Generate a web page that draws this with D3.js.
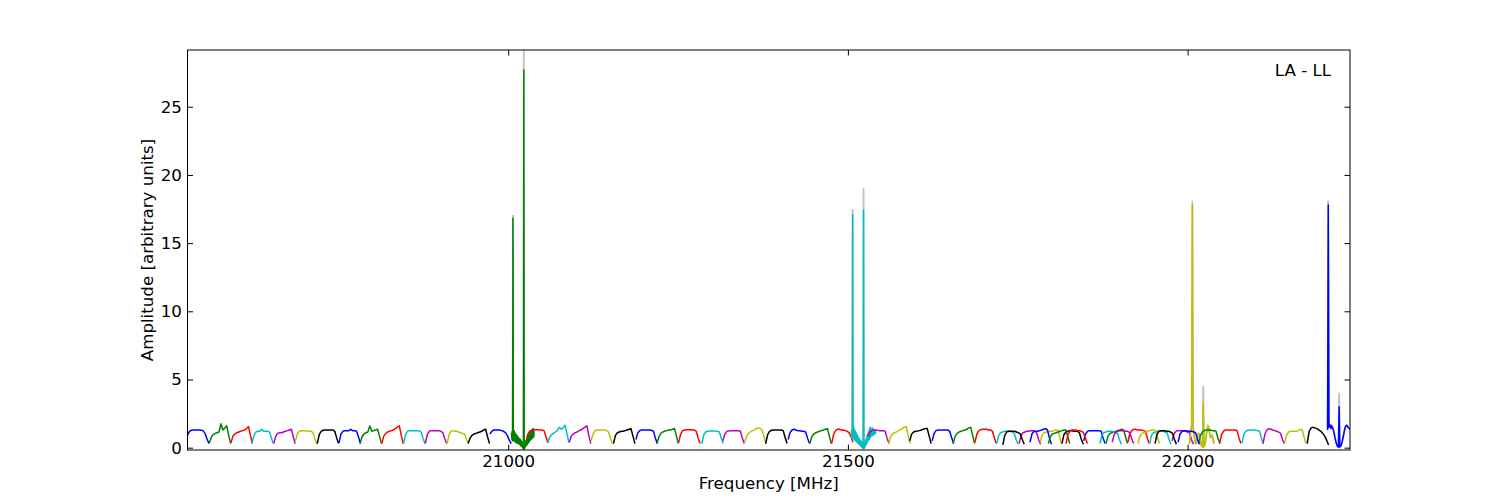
<!doctype html>
<html lang="en">

<head>
  <title>LA - LL amplitude spectrum</title>
  <meta charset="utf-8" />
  <script src="https://cdn.jsdelivr.net/npm/d3@7"></script>
  <style>
    body { margin: 0; background: #fff; }
    text { font-family: "DejaVu Sans", sans-serif; }
  </style>
  <script>
    // start frequency of every spectral window [MHz], in spw order
    const spwStart = [
      20528, 20560, 20592, 20623, 20655, 20687, 20719, 20751, 20782, 20814,
      20846, 20878, 20910, 20941, 20973, 21005, 21027, 21058, 21090, 21122,
      21155, 21188, 21219, 21251, 21285, 21316, 21348, 21379, 21412, 21444,
      21476, 21505, 21529, 21560, 21591, 21624, 21655, 21687, 21719, 21752,
      21783, 21815, 21847, 21880, 21912, 21944, 21977, 22003, 21728, 21768,
      22016, 22047, 22080, 22111, 22143, 22176, 22206, 21795, 21821, 21871,
      21889, 21927, 21952, 21986
    ];
    // the windows with narrow channels (spectral lines) and their channel width [MHz]
    const lineSpws = [15, 31, 47, 56];
    const lineChanWidth = [0.5, 0.5, 1, 1];
    const contChanWidth = 2.8636;

    // amplitude per channel of every window
    const spwAmp = [
      [0.9, 1.2, 1.28, 1.3, 1.3, 1.3, 1.3, 1.28, 1.25, 1.05, 0.65, 0.3],
      [0.3, 0.75, 0.95, 1.05, 1.1, 1.15, 1.75, 1.3, 1.45, 1.6, 0.9, 0.3],
      [0.35, 0.85, 1.0, 1.1, 1.15, 1.2, 1.25, 1.3, 1.4, 1.55, 0.9, 0.3],
      [0.35, 0.9, 1.15, 1.2, 1.2, 1.35, 1.2, 1.2, 1.2, 1.15, 0.7, 0.3],
      [0.3, 0.85, 1.05, 1.1, 1.1, 1.15, 1.2, 1.25, 1.3, 1.35, 0.8, 0.3],
      [0.5, 1.05, 1.2, 1.25, 1.25, 1.25, 1.22, 1.2, 1.2, 1.1, 0.6, 0.3],
      [0.3, 0.95, 1.2, 1.28, 1.3, 1.3, 1.3, 1.3, 1.3, 1.2, 0.7, 0.3],
      [0.35, 1.0, 1.2, 1.25, 1.25, 1.25, 1.35, 1.25, 1.25, 1.2, 0.8, 0.3],
      [0.3, 0.8, 1.0, 1.1, 1.15, 1.6, 1.2, 1.25, 1.3, 1.35, 0.85, 0.3],
      [0.3, 0.85, 1.05, 1.15, 1.2, 1.25, 1.3, 1.4, 1.5, 1.6, 0.9, 0.3],
      [0.3, 0.95, 1.2, 1.25, 1.25, 1.25, 1.25, 1.25, 1.25, 1.15, 0.7, 0.3],
      [0.3, 0.95, 1.2, 1.25, 1.25, 1.25, 1.25, 1.25, 1.2, 1.1, 0.65, 0.3],
      [0.3, 0.95, 1.2, 1.25, 1.2, 1.2, 1.15, 1.1, 1.05, 1.0, 0.6, 0.3],
      [0.3, 0.7, 0.9, 1.0, 1.05, 1.1, 1.15, 1.2, 1.3, 1.35, 0.8, 0.3],
      [1.0, 1.2, 1.3, 1.3, 1.3, 1.3, 1.25, 1.2, 1.1, 0.9, 0.55, 0.3],
      // spw 15: line window
      [1.1, 0.6, 1.2, 0.5, 16.82, 0.7, 1.3, 0.5, 1.2, 0.6, 1.1, 0.4, 1.0, 0.5, 0.95, 0.35,
       0.9, 0.4, 0.8, 0.3, 0.75, 0.3, 0.7, 0.25, 0.65, 0.2, 0.6, 0.15, 0.5, 0.1, 0.45, 0.05,
       0.4, 0.0, 0.3, -0.1, 27.7, -0.17, 0.3, 0.0, 0.4, 0.1, 0.5, 0.15, 0.6, 0.2, 0.7, 0.3,
       0.8, 0.35, 0.9, 0.4, 1.0, 0.5, 1.1, 0.55, 1.15, 0.6, 1.25, 0.65, 1.3, 0.7, 1.35, 0.75,
       1.4, 0.8, 1.2],
      [0.7, 1.1, 1.25, 1.3, 1.32, 1.32, 1.32, 1.3, 1.3, 1.25, 0.8, 0.35],
      [0.35, 0.75, 0.95, 1.05, 1.15, 1.25, 1.5, 1.35, 1.45, 1.65, 1.0, 0.35],
      [0.4, 0.85, 1.0, 1.1, 1.15, 1.25, 1.3, 1.4, 1.5, 1.6, 0.9, 0.3],
      [0.5, 1.0, 1.25, 1.3, 1.3, 1.3, 1.3, 1.3, 1.25, 1.15, 0.65, 0.3],
      [0.3, 0.9, 1.1, 1.15, 1.2, 1.2, 1.25, 1.3, 1.35, 1.4, 0.85, 0.3],
      [0.6, 1.1, 1.25, 1.3, 1.3, 1.3, 1.3, 1.3, 1.28, 1.2, 0.7, 0.3],
      [0.3, 0.8, 1.05, 1.15, 1.2, 1.25, 1.3, 1.3, 1.35, 1.4, 0.85, 0.3],
      [0.4, 1.0, 1.25, 1.3, 1.32, 1.32, 1.32, 1.3, 1.3, 1.2, 0.7, 0.3],
      [0.3, 0.95, 1.15, 1.2, 1.22, 1.22, 1.22, 1.22, 1.2, 1.15, 0.7, 0.3],
      [0.5, 1.0, 1.2, 1.22, 1.25, 1.25, 1.25, 1.25, 1.25, 1.2, 0.7, 0.3],
      [0.4, 0.85, 1.05, 1.15, 1.25, 1.3, 1.4, 1.42, 1.42, 1.3, 0.8, 0.3],
      [0.3, 0.95, 1.2, 1.28, 1.3, 1.3, 1.3, 1.3, 1.3, 1.25, 0.75, 0.3],
      [0.6, 1.1, 1.3, 1.35, 1.3, 1.25, 1.25, 1.2, 1.2, 1.15, 0.7, 0.3],
      [0.3, 0.8, 1.0, 1.1, 1.15, 1.2, 1.25, 1.3, 1.35, 1.4, 0.85, 0.3],
      [0.3, 0.95, 1.25, 1.35, 1.35, 1.3, 1.3, 1.25, 1.2, 1.1, 0.8, 0.4],
      // spw 31: line window
      [0.8, 1.3, 0.7, 1.5, 17.1, 0.8, 1.6, 0.7, 1.4, 0.6, 1.3, 0.55, 1.2, 0.5, 1.1, 0.45,
       1.0, 0.4, 0.9, 0.35, 0.8, 0.3, 0.7, 0.25, 0.6, 0.2, 0.55, 0.15, 0.5, 0.1, 0.4, 0.05,
       0.35, 0.0, 0.3, -0.05, 17.43, -0.1, 0.3, 0.0, 0.4, 0.1, 0.5, 0.2, 0.65, 0.3, 0.8, 0.4,
       0.95, 0.5, 1.1, 0.55, 1.25, 0.6, 1.4, 0.7, 1.5, 0.8, 1.3, 0.85, 1.35, 0.9, 1.45, 0.9,
       1.3, 0.95, 1.35, 1.0, 1.3, 1.0, 1.25, 1.05, 1.2],
      [0.8, 1.1, 1.25, 1.3, 1.3, 1.28, 1.25, 1.25, 1.25, 1.2, 0.7, 0.3],
      [0.3, 0.8, 1.0, 1.1, 1.15, 1.25, 1.3, 1.4, 1.5, 1.55, 0.9, 0.3],
      [0.5, 1.0, 1.15, 1.2, 1.22, 1.25, 1.3, 1.35, 1.4, 1.4, 0.85, 0.3],
      [0.5, 1.05, 1.25, 1.3, 1.3, 1.3, 1.3, 1.3, 1.3, 1.2, 0.75, 0.3],
      [0.3, 0.85, 1.05, 1.15, 1.2, 1.25, 1.3, 1.35, 1.45, 1.5, 0.9, 0.3],
      [0.4, 1.0, 1.25, 1.32, 1.35, 1.35, 1.35, 1.3, 1.3, 1.2, 0.7, 0.3],
      [0.3, 0.9, 1.1, 1.15, 1.2, 1.2, 1.2, 1.2, 1.15, 1.05, 0.6, 0.25],
      [0.3, 0.9, 1.1, 1.15, 1.2, 1.2, 1.25, 1.25, 1.2, 1.1, 0.6, 0.25],
      [0.4, 0.95, 1.1, 1.15, 1.15, 1.2, 1.2, 1.25, 1.3, 1.3, 0.8, 0.3],
      [0.3, 0.95, 1.15, 1.2, 1.25, 1.25, 1.2, 1.2, 1.2, 1.1, 0.6, 0.25],
      [0.5, 1.0, 1.2, 1.25, 1.25, 1.25, 1.25, 1.25, 1.25, 1.2, 0.7, 0.3],
      [0.3, 0.85, 1.05, 1.1, 1.15, 1.2, 1.25, 1.3, 1.35, 1.3, 0.8, 0.3],
      [0.4, 1.0, 1.25, 1.35, 1.35, 1.3, 1.3, 1.3, 1.25, 1.2, 0.7, 0.3],
      [0.3, 0.9, 1.1, 1.15, 1.2, 1.2, 1.2, 1.2, 1.15, 1.1, 0.6, 0.25],
      [0.5, 1.0, 1.2, 1.25, 1.25, 1.25, 1.2, 1.2, 1.15, 1.1, 0.6, 0.25],
      // spw 47: line window
      [0.3, 1.0, 1.4, 1.6, 17.8, 1.5, 1.2, 0.8, 0.45, 0.3, 0.35, 0.6, 0.9, 1.05, 1.0, 0.8, 0.5, 0.25,
       0.1, 0.05, 3.3, 0.05, 0.15, 0.35, 0.7, 1.1, 1.4, 1.6, 1.5, 1.2, 0.9, 0.75, 0.8, 0.9, 0.7, 0.5, 0.3],
      [0.2, 0.9, 1.15, 1.2, 1.2, 1.2, 1.2, 1.15, 1.1, 1.0, 0.6, 0.25],
      [0.4, 1.0, 1.2, 1.2, 1.2, 1.25, 1.3, 1.35, 1.4, 1.3, 0.7, 0.25],
      [0.3, 0.9, 1.15, 1.25, 1.3, 1.3, 1.3, 1.25, 1.25, 1.2, 0.7, 0.3],
      [0.3, 0.95, 1.2, 1.3, 1.3, 1.3, 1.3, 1.3, 1.3, 1.25, 0.7, 0.3],
      [0.35, 1.0, 1.2, 1.28, 1.3, 1.3, 1.3, 1.28, 1.25, 1.2, 0.7, 0.3],
      [0.3, 1.0, 1.3, 1.4, 1.35, 1.3, 1.25, 1.2, 1.15, 1.05, 0.6, 0.3],
      [0.4, 0.95, 1.15, 1.2, 1.2, 1.2, 1.2, 1.25, 1.35, 1.3, 0.7, 0.3],
      [0.3, 1.2, 1.45, 1.5, 1.45, 1.4, 1.3, 1.2, 1.05, 0.85, 0.55, 0.2],
      // spw 56: line window
      [1.3, 17.8, 1.5, 1.7, 1.6, 1.4, 1.6, 1.5, 1.4, 1.2, 0.95, 0.7, 0.5, 0.3, 0.15, 0.08, 0.05,
       3.0, 0.05, 0.1, 0.2, 0.35, 0.55, 0.8, 1.05, 1.3, 1.5, 1.6, 1.65, 1.6, 1.5, 1.45, 1.4, 1.4],
      [0.3, 0.8, 1.0, 1.05, 1.1, 1.15, 1.2, 1.25, 1.3, 1.3, 0.8, 0.3],
      [0.3, 0.95, 1.2, 1.3, 1.3, 1.3, 1.25, 1.25, 1.2, 1.1, 0.7, 0.3],
      [0.3, 0.9, 1.1, 1.15, 1.2, 1.2, 1.2, 1.15, 1.1, 1.05, 0.6, 0.25],
      [0.4, 0.95, 1.15, 1.2, 1.25, 1.25, 1.25, 1.2, 1.2, 1.1, 0.65, 0.3],
      [0.3, 0.85, 1.05, 1.1, 1.15, 1.2, 1.25, 1.3, 1.3, 1.25, 0.75, 0.3],
      [0.3, 0.95, 1.2, 1.25, 1.25, 1.25, 1.2, 1.2, 1.15, 1.05, 0.6, 0.25],
      [0.4, 1.0, 1.2, 1.25, 1.25, 1.2, 1.2, 1.2, 1.15, 1.1, 0.6, 0.25]
    ];

    // unsmoothed peak heights of the lines (drawn in grey behind)
    const rawPeakFreq = [21007, 21023, 21507, 21523, 22007, 22023, 22207, 22223];
    const rawPeakAmp = [17.06, 29.16, 17.5, 19.06, 18.1, 4.52, 18.1, 4.03];

    const xTicks = [21000, 21500, 22000];
    const yTicks = [0, 5, 10, 15, 20, 25];
    const baselineLabel = "LA - LL";

    window.onload = () => {
      const w = 1500;
      const h = 500;
      const left = 187.5, right = 1350, top = 50, bottom = 450;

      const colors = ["#0000ff", "#008000", "#ff0000", "#00bfbf", "#bf00bf", "#bfbf00", "#000000"];

      const spws = spwStart.map((f0, i) => {
        const k = lineSpws.indexOf(i);
        const cw = k >= 0 ? lineChanWidth[k] : contChanWidth;
        return {
          id: i,
          pts: spwAmp[i].map((a, j) => [f0 + j * cw, a])
        };
      });

      const raw = spws.filter(s => lineSpws.includes(s.id)).map(s => s.pts.map(p => {
        const k = rawPeakFreq.findIndex(f => Math.abs(f - p[0]) < 0.01);
        return k >= 0 ? [p[0], rawPeakAmp[k]] : p;
      }));

      const allPts = spws.flatMap(s => s.pts).concat(raw.flat());
      const x = d3.scaleLinear().domain(d3.extent(allPts, p => p[0])).range([left, right]);
      const y = d3.scaleLinear().domain(d3.extent(allPts, p => p[1])).range([bottom, top]);

      const svg = d3.select("body").append("svg").attr("width", w).attr("height", h);

      svg.append("clipPath").attr("id", "plot-area")
        .append("rect").attr("x", left).attr("y", top)
        .attr("width", right - left).attr("height", bottom - top);

      const line = d3.line().x(p => x(p[0])).y(p => y(p[1]));
      const plot = svg.append("g").attr("clip-path", "url(#plot-area)");

      plot.selectAll("path.raw")
        .data(raw)
        .enter()
        .append("path")
        .attr("class", "raw")
        .attr("d", line)
        .style("fill", "none")
        .style("stroke", "#bfbfbf")
        .style("stroke-width", 1.8);

      plot.selectAll("path.spw")
        .data(spws)
        .enter()
        .append("path")
        .attr("class", "spw")
        .attr("d", s => line(s.pts))
        .style("fill", "none")
        .style("stroke", s => colors[s.id % colors.length])
        .style("stroke-width", 1.5)
        .style("stroke-linejoin", "round");

      // axes, ticks pointing inwards on all four sides
      const tick = 5.5;
      const fontSize = "16.67px";
      const axes = [
        [d3.axisBottom(x).tickValues(xTicks).tickFormat(d3.format("d")), `translate(0,${bottom})`],
        [d3.axisTop(x).tickValues(xTicks).tickFormat(""), `translate(0,${top})`],
        [d3.axisLeft(y).tickValues(yTicks).tickFormat(d3.format("d")), `translate(${left},0)`],
        [d3.axisRight(y).tickValues(yTicks).tickFormat(""), `translate(${right},0)`]
      ];
      axes.forEach(([ax, tr]) => {
        const g = svg.append("g").attr("transform", tr)
          .call(ax.tickSizeInner(-tick).tickSizeOuter(0).tickPadding(5.6));
        g.select(".domain").remove();
        g.selectAll(".tick line").style("stroke", "#000");
        g.selectAll("text").style("font-family", "DejaVu Sans").style("font-size", fontSize).style("fill", "#000");
      });

      svg.append("rect")
        .attr("x", left).attr("y", top)
        .attr("width", right - left).attr("height", bottom - top)
        .style("fill", "none").style("stroke", "#000").style("stroke-width", 1);

      svg.append("text")
        .text("Frequency [MHz]")
        .attr("x", (left + right) / 2).attr("y", 489)
        .attr("text-anchor", "middle")
        .style("font-size", fontSize);

      svg.append("text")
        .text("Amplitude [arbitrary units]")
        .attr("transform", `translate(153,${(top + bottom) / 2}) rotate(-90)`)
        .attr("text-anchor", "middle")
        .style("font-size", fontSize);

      svg.append("text")
        .text(baselineLabel)
        .attr("x", 1331).attr("y", 76)
        .attr("text-anchor", "end")
        .style("font-size", fontSize);
    }
  </script>
</head>

<body>
</body></html>
